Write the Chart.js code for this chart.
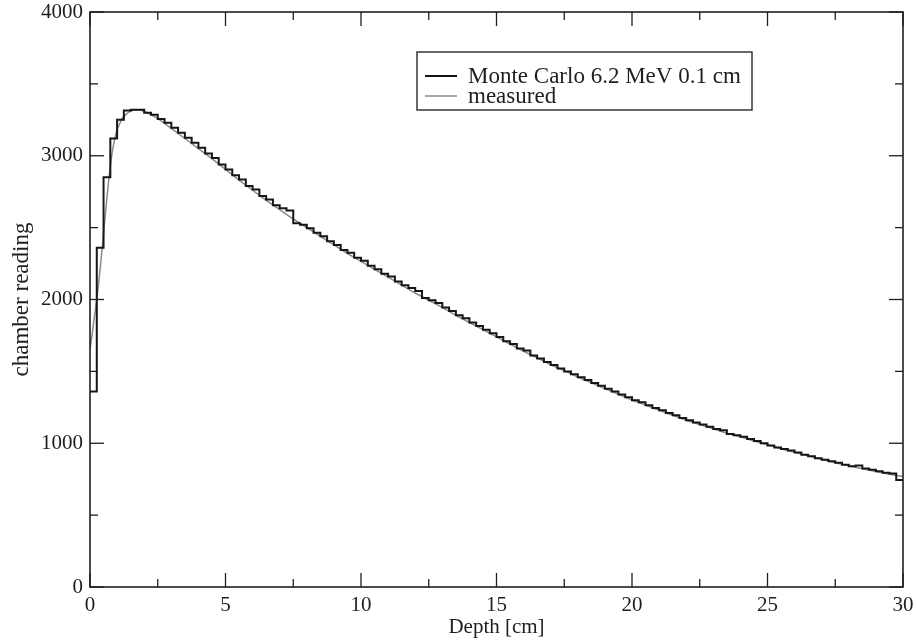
<!DOCTYPE html>
<html>
<head>
<meta charset="utf-8">
<script src="https://cdn.jsdelivr.net/npm/chart.js@4/dist/chart.umd.min.js"></script>
<style>
  html, body { margin: 0; padding: 0; background: #fff; }
  #wrap { width: 917px; height: 640px; }
</style>
</head>
<body>
<div id="wrap"><canvas id="c" width="917" height="640"></canvas></div>
<script>
// ---- data ----
const seriesLabels = ['Monte Carlo 6.2 MeV 0.1 cm', 'measured'];

// Monte Carlo histogram: bin edges (cm) and chamber reading per bin
const mcEdges = [0,0.25,0.5,0.75,1,1.25,1.5,1.75,2,2.25,2.5,2.75,3,3.25,3.5,3.75,4,4.25,4.5,4.75,
  5,5.25,5.5,5.75,6,6.25,6.5,6.75,7,7.25,7.5,7.75,8,8.25,8.5,8.75,9,9.25,9.5,9.75,
  10,10.25,10.5,10.75,11,11.25,11.5,11.75,12,12.25,12.5,12.75,13,13.25,13.5,13.75,14,14.25,14.5,14.75,
  15,15.25,15.5,15.75,16,16.25,16.5,16.75,17,17.25,17.5,17.75,18,18.25,18.5,18.75,19,19.25,19.5,19.75,
  20,20.25,20.5,20.75,21,21.25,21.5,21.75,22,22.25,22.5,22.75,23,23.25,23.5,23.75,24,24.25,24.5,24.75,
  25,25.25,25.5,25.75,26,26.25,26.5,26.75,27,27.25,27.5,27.75,28,28.25,28.5,28.75,29,29.25,29.5,29.75,30];
const mcReading = [
  1360,2360,2850,3120,3250,3315,3320,3320,3300,3285,
  3255,3230,3195,3160,3125,3090,3055,3015,2985,2940,
  2905,2865,2835,2790,2765,2720,2695,2655,2635,2620,
  2530,2520,2495,2465,2440,2405,2380,2345,2325,2290,
  2270,2235,2210,2180,2160,2125,2100,2080,2060,2010,
  1995,1975,1945,1920,1890,1870,1840,1815,1790,1765,
  1740,1710,1690,1660,1645,1610,1590,1565,1545,1520,
  1500,1480,1460,1440,1420,1400,1380,1360,1340,1320,
  1300,1285,1265,1245,1230,1210,1195,1175,1160,1145,
  1130,1115,1100,1090,1065,1055,1045,1030,1015,1000,
  985,970,960,950,935,920,910,895,885,875,
  865,850,840,845,825,815,805,795,790,745];

// Measured depth-dose curve
const measDepth = [0,0.1,0.2,0.3,0.4,0.5,0.6,0.7,0.8,0.9,1.0,1.2,1.4,1.6,1.8,2.0,
  2.5,3,3.5,4,4.5,5,5.5,6,6.5,7,7.5,8,8.5,9,9.5,10,10.5,11,11.5,12,12.5,13,13.5,14,14.5,
  15,15.5,16,16.5,17,17.5,18,18.5,19,19.5,20,20.5,21,21.5,22,22.5,23,23.5,24,24.5,
  25,25.5,26,26.5,27,27.5,28,28.5,29,29.5,30];
const measReading = [1650,1790,1930,2080,2260,2460,2660,2850,3000,3110,3185,3265,3300,3318,3320,3310,
  3260,3190,3120,3050,2980,2905,2830,2760,2690,2625,2560,2500,2440,2380,2320,2265,2210,2155,2100,2045,1995,1945,1890,1840,1790,
  1740,1690,1640,1595,1545,1505,1460,1420,1380,1340,1300,1265,1230,1195,1160,1130,1100,1070,1045,1015,
  990,962,937,912,888,865,843,822,803,785,768];

// Axis ticks
const xMajorTicks = [0,5,10,15,20,25,30];
const xMinorTicks = [2.5,7.5,12.5,17.5,22.5,27.5];
const yMajorTicks = [0,1000,2000,3000,4000];
const yMinorTicks = [500,1500,2500,3500];
const xTickLabels = ['0','5','10','15','20','25','30'];
const yTickLabels = ['0','1000','2000','3000','4000'];
const xTitle = 'Depth [cm]';
const yTitle = 'chamber reading';

// ---- build datasets ----
const mcPoints = mcReading.map((v, i) => ({x: mcEdges[i], y: v}));
mcPoints.push({x: mcEdges[mcEdges.length - 1], y: mcReading[mcReading.length - 1]});
const measPoints = measReading.map((v, i) => ({x: measDepth[i], y: v}));

const FONT = 'Liberation Serif, Times New Roman, serif';
const INK = '#1e1e1e';

const frameTicks = {
  id: 'frameTicks',
  afterDatasetsDraw(chart) {
    const {ctx, chartArea: a, scales: {x, y}} = chart;
    ctx.save();
    ctx.strokeStyle = INK;
    ctx.lineWidth = 1.3;
    const seg = (x1, y1, x2, y2) => { ctx.beginPath(); ctx.moveTo(x1, y1); ctx.lineTo(x2, y2); ctx.stroke(); };
    const MAJ = 14, MIN = 8;
    xMajorTicks.forEach(v => { const p = x.getPixelForValue(v); seg(p, a.bottom, p, a.bottom - MAJ); seg(p, a.top, p, a.top + MAJ); });
    xMinorTicks.forEach(v => { const p = x.getPixelForValue(v); seg(p, a.bottom, p, a.bottom - MIN); seg(p, a.top, p, a.top + MIN); });
    yMajorTicks.forEach(v => { const p = y.getPixelForValue(v); seg(a.left, p, a.left + MAJ, p); seg(a.right, p, a.right - MAJ, p); });
    yMinorTicks.forEach(v => { const p = y.getPixelForValue(v); seg(a.left, p, a.left + MIN, p); seg(a.right, p, a.right - MIN, p); });
    ctx.lineWidth = 1.6;
    ctx.strokeRect(a.left, a.top, a.right - a.left, a.bottom - a.top);

    // legend box
    const bx = 417, by = 52, bw = 335, bh = 58;
    ctx.fillStyle = '#fff';
    ctx.fillRect(bx, by, bw, bh);
    ctx.lineWidth = 1.4;
    ctx.strokeStyle = '#2a2a2a';
    ctx.strokeRect(bx, by, bw, bh);
    const ds = chart.data.datasets;
    const rows = [76, 96];
    ds.forEach((d, i) => {
      ctx.strokeStyle = d.borderColor;
      ctx.lineWidth = d.borderWidth;
      seg(425, rows[i], 457, rows[i]);
      ctx.fillStyle = INK;
      ctx.font = '23px ' + FONT;
      ctx.textBaseline = 'middle';
      ctx.textAlign = 'left';
      ctx.fillText(d.label, 468, rows[i] + 1);
    });
    ctx.restore();
  }
};

new Chart(document.getElementById('c'), {
  type: 'line',
  data: {
    datasets: [
      {
        label: seriesLabels[0],
        data: mcPoints,
        stepped: 'before',
        borderColor: '#161616',
        borderWidth: 2,
        pointRadius: 0,
        fill: false,
        order: 0
      },
      {
        label: seriesLabels[1],
        data: measPoints,
        borderColor: '#8a8a8a',
        borderWidth: 1.5,
        pointRadius: 0,
        tension: 0,
        fill: false,
        order: 1
      }
    ]
  },
  options: {
    responsive: false,
    animation: false,
    devicePixelRatio: 1,
    layout: { padding: { top: 12, right: 14, left: 0, bottom: 0 } },
    plugins: { legend: { display: false }, tooltip: { enabled: false } },
    scales: {
      x: {
        type: 'linear', min: 0, max: 30,
        grid: { display: false, drawTicks: false },
        border: { display: false },
        ticks: {
          stepSize: 5, padding: 6, color: INK, maxRotation: 0,
          font: { family: FONT, size: 21 },
          callback: (v) => { const i = xMajorTicks.indexOf(v); return i >= 0 ? xTickLabels[i] : ''; }
        },
        title: { display: true, text: xTitle, color: INK, font: { family: FONT, size: 21 }, padding: { top: 0, bottom: 0 } },
        afterFit: (s) => { s.height = 53; s.paddingLeft = 0; s.paddingRight = 0; }
      },
      y: {
        type: 'linear', min: 0, max: 4000,
        grid: { display: false, drawTicks: false },
        border: { display: false },
        ticks: {
          stepSize: 1000, padding: 7, color: INK,
          font: { family: FONT, size: 21 },
          callback: (v) => { const i = yMajorTicks.indexOf(v); return i >= 0 ? yTickLabels[i] : ''; }
        },
        title: { display: true, text: yTitle, color: INK, font: { family: FONT, size: 23 }, padding: { top: 8, bottom: 0 } },
        afterFit: (s) => { s.width = 90; s.paddingTop = 0; s.paddingBottom = 0; }
      }
    }
  },
  plugins: [frameTicks]
});
</script>
</body>
</html>
